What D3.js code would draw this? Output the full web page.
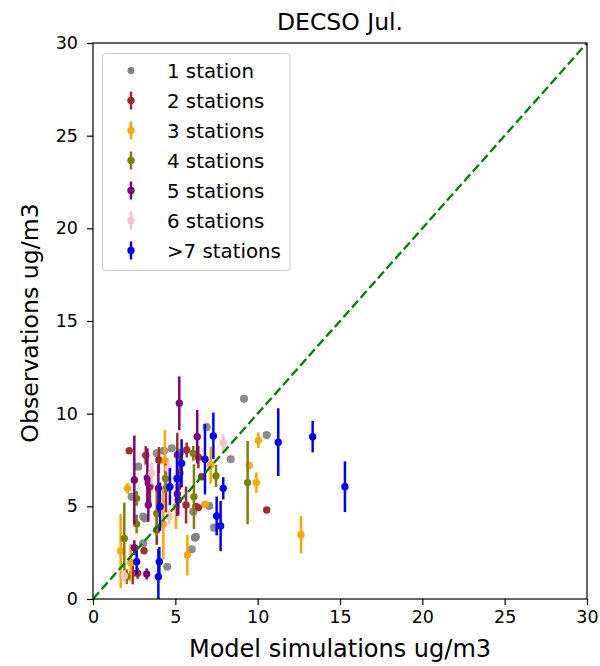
<!DOCTYPE html>
<html>
<head>
<meta charset="utf-8">
<script src="https://cdn.jsdelivr.net/npm/d3@7"></script>
<style>
  body { margin: 0; background: #fff; }
  svg { display: block; font-family: "DejaVu Sans", sans-serif; }
</style>
</head>
<body>
<svg id="chart" width="600" height="666"></svg>
<script>
// Axis ticks
const xTicks = [0, 5, 10, 15, 20, 25, 30];
const yTicks = [0, 5, 10, 15, 20, 25, 30];

// 1 station (plain scatter)
const oneX = [3.87, 4.78, 2.75, 2.35, 3.05, 3.05, 4.51, 6.25, 6.9, 9.17, 8.36, 10.55, 7.06, 6.09, 7.35, 6.19, 5.99, 5.3, 4.3, 3.16];
const oneY = [7.86, 8.13, 7.14, 5.52, 4.44, 3.0, 1.74, 3.36, 9.27, 10.8, 7.54, 8.85, 5.02, 4.71, 3.85, 3.31, 2.68, 7.9, 8.0, 4.35];

// 2 stations
const twoX = [2.2, 3.2, 3.46, 4.43, 5.65, 3.87, 3.1, 2.71, 2.41, 6.4, 6.6, 6.4, 10.55, 5.12, 4.0, 6.25, 5.28, 5.69];
const twoY = [8.0, 7.75, 6.06, 5.97, 5.07, 3.72, 2.6, 1.39, 1.39, 7.65, 6.6, 4.93, 4.8, 7.77, 7.5, 5.0, 6.8, 8.04];
const twoE = [0.0, 0.5, 0.9, 1.3, 1.0, 0.8, 0.0, 0.3, 0.6, 0.6, 0.0, 0.0, 0.0, 1.2, 0.7, 0.0, 0.9, 0.4];

// 3 stations
const threeX = [4.37, 2.1, 4.27, 5.04, 1.68, 2.29, 5.73, 7.15, 9.49, 10.04, 9.92, 12.63, 6.8];
const threeY = [7.46, 5.97, 4.05, 4.98, 2.59, 1.96, 2.37, 7.23, 7.2, 8.56, 6.28, 3.47, 5.11];
const threeE = [1.66, 0.3, 1.9, 1.2, 2.0, 1.0, 1.1, 1.0, 0.0, 0.42, 0.55, 1.0, 0.0];

// 4 stations
const fourX = [2.65, 2.65, 1.9, 3.87, 6.09, 6.13, 7.47, 9.39, 2.05, 4.4];
const fourY = [5.43, 4.05, 3.27, 4.62, 7.86, 5.52, 6.64, 6.28, 1.2, 6.5];
const fourE = [0.4, 0.5, 1.93, 1.2, 0.4, 1.75, 0.6, 2.25, 0.4, 0.8];

// 5 stations
const fiveX = [5.24, 2.51, 3.3, 3.97, 3.36, 5.12, 2.51, 3.26, 6.33, 3.36, 5.18];
const fiveY = [10.56, 6.42, 6.53, 5.97, 5.07, 5.67, 2.77, 1.35, 8.76, 6.24, 5.34];
const fiveE = [1.45, 2.4, 1.6, 1.3, 0.9, 1.2, 0.4, 0.3, 1.45, 0.6, 0.8];

// 6 stations
const sixX = [3.56, 4.57, 4.63, 1.9, 7.91];
const sixY = [6.78, 7.05, 4.44, 1.24, 8.44];
const sixE = [0.6, 0.4, 0.4, 0.3, 0.45];

// more than 7 stations
const sevenX = [5.38, 4.67, 4.07, 2.65, 3.97, 4.03, 7.31, 6.8, 7.91, 7.51, 7.75, 11.25, 13.34, 15.3, 5.1];
const sevenY = [7.32, 6.06, 4.98, 2.01, 1.2, 2.01, 8.8, 7.54, 5.97, 4.48, 3.94, 8.46, 8.76, 6.06, 6.5];
const sevenE = [1.3, 1.0, 1.3, 0.7, 1.5, 0.8, 1.26, 1.9, 0.6, 1.05, 1.35, 1.83, 0.85, 1.37, 1.5];

const groups = [
  { label: "2 stations", color: "#a52a2a", x: twoX, y: twoY, e: twoE },
  { label: "3 stations", color: "#ffa500", x: threeX, y: threeY, e: threeE },
  { label: "4 stations", color: "#808000", x: fourX, y: fourY, e: fourE },
  { label: "5 stations", color: "#800080", x: fiveX, y: fiveY, e: fiveE },
  { label: "6 stations", color: "#ffc0cb", x: sixX, y: sixY, e: sixE },
  { label: ">7 stations", color: "#0000ff", x: sevenX, y: sevenY, e: sevenE }
];

const svg = d3.select("#chart");
const L = 93, R = 587, T = 43, B = 599;

const x = d3.scaleLinear().domain([0, 30]).range([L, R]);
const y = d3.scaleLinear().domain([0, 30]).range([B, T]);

const defs = svg.append("defs");
defs.append("clipPath").attr("id", "plotclip")
  .append("rect").attr("x", L).attr("y", T).attr("width", R - L).attr("height", B - T);

const plot = svg.append("g").attr("clip-path", "url(#plotclip)");

// single-station scatter
plot.append("g").selectAll("circle")
  .data(d3.range(oneX.length))
  .join("circle")
  .attr("cx", i => x(oneX[i]))
  .attr("cy", i => y(oneY[i]))
  .attr("r", 4.1)
  .attr("fill", "#808080")
  .attr("opacity", 0.9);

// error-bar groups
groups.forEach(g => {
  const gg = plot.append("g");
  const idx = d3.range(g.x.length);
  gg.selectAll("line")
    .data(idx.filter(i => g.e[i] > 0))
    .join("line")
    .attr("x1", i => x(g.x[i]))
    .attr("x2", i => x(g.x[i]))
    .attr("y1", i => y(g.y[i] - g.e[i]))
    .attr("y2", i => y(g.y[i] + g.e[i]))
    .attr("stroke", g.color)
    .attr("stroke-width", 2.5);
  gg.selectAll("circle")
    .data(idx)
    .join("circle")
    .attr("cx", i => x(g.x[i]))
    .attr("cy", i => y(g.y[i]))
    .attr("r", 3.7)
    .attr("fill", g.color);
});

// 1:1 reference line
plot.append("line")
  .attr("x1", x(0)).attr("y1", y(0))
  .attr("x2", x(30)).attr("y2", y(30))
  .attr("stroke", "#008000")
  .attr("stroke-width", 2.3)
  .attr("stroke-dasharray", "9,4");

// axes
const xAxis = d3.axisBottom(x).tickValues(xTicks).tickSize(6).tickPadding(6);
const yAxis = d3.axisLeft(y).tickValues(yTicks).tickSize(6).tickPadding(9);

const gx = svg.append("g").attr("transform", `translate(0,${B})`).call(xAxis);
const gy = svg.append("g").attr("transform", `translate(${L},0)`).call(yAxis);
[gx, gy].forEach(g => {
  g.select(".domain").remove();
  g.selectAll(".tick line").attr("stroke", "#000").attr("stroke-width", 1.2);
  g.selectAll(".tick text").attr("fill", "#000").attr("font-size", 17.5)
    .attr("font-family", "DejaVu Sans, sans-serif");
});

// frame
svg.append("rect")
  .attr("x", L).attr("y", T).attr("width", R - L).attr("height", B - T)
  .attr("fill", "none").attr("stroke", "#000").attr("stroke-width", 1.2);

// titles
svg.append("text").attr("x", (L + R) / 2).attr("y", 30)
  .attr("text-anchor", "middle").attr("font-size", 23.5).text("DECSO Jul.");
svg.append("text").attr("x", (L + R) / 2).attr("y", 657)
  .attr("text-anchor", "middle").attr("font-size", 24).text("Model simulations ug/m3");
svg.append("text")
  .attr("transform", `translate(38,${(T + B) / 2 + 2}) rotate(-90)`)
  .attr("text-anchor", "middle").attr("font-size", 23.6).text("Observations ug/m3");

// legend
const leg = svg.append("g");
leg.append("rect")
  .attr("x", 102.5).attr("y", 53.5).attr("width", 187.5).attr("height", 217)
  .attr("rx", 3).attr("fill", "#fff").attr("fill-opacity", 0.8)
  .attr("stroke", "#cccccc").attr("stroke-width", 1);

const legendItems = [{ label: "1 station", color: "#808080", bar: false }]
  .concat(groups.map(g => ({ label: g.label, color: g.color, bar: true })));
const rowY = d3.scaleLinear().domain([0, 6]).range([70.5, 250.5]);

legendItems.forEach((d, i) => {
  const cy = rowY(i);
  if (d.bar) {
    leg.append("line").attr("x1", 131).attr("x2", 131)
      .attr("y1", cy - 9).attr("y2", cy + 9)
      .attr("stroke", d.color).attr("stroke-width", 2.5);
    leg.append("circle").attr("cx", 131).attr("cy", cy).attr("r", 3.7).attr("fill", d.color);
  } else {
    leg.append("circle").attr("cx", 131).attr("cy", cy).attr("r", 3.5).attr("fill", d.color);
  }
  leg.append("text").attr("x", 167).attr("y", cy + 7.3)
    .attr("font-size", 19.8).attr("fill", "#000").text(d.label);
});
</script>
</body>
</html>
